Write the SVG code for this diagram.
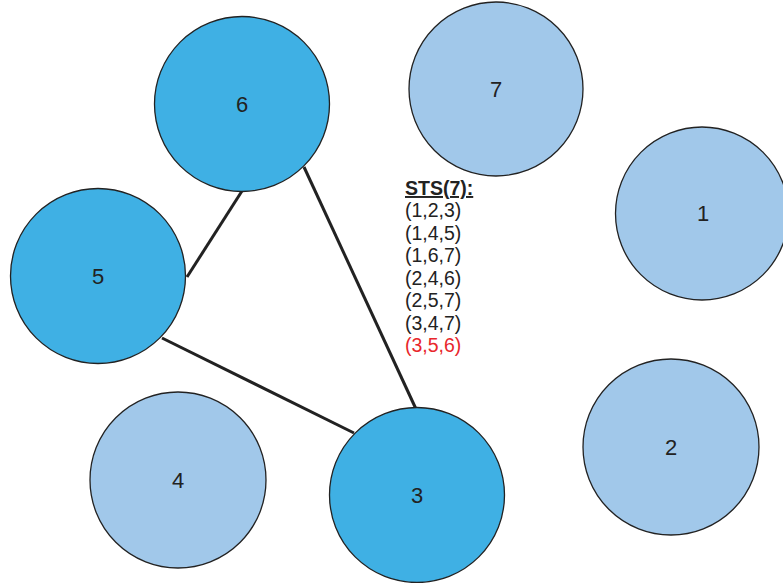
<svg xmlns="http://www.w3.org/2000/svg" width="783" height="583" viewBox="0 0 783 583">
  <style>
    .node { stroke: #222; stroke-width: 1.3; }
    .on { fill: #3fb0e4; }
    .off { fill: #a1c8ea; }
    .lbl { font-family: "Liberation Sans", Arial, sans-serif; font-size: 22px; fill: #222; text-anchor: middle; }
    .edge { stroke: #222; stroke-width: 3; fill: none; }
    .sts { font-family: "Liberation Sans", Arial, sans-serif; font-size: 19.5px; fill: #222; }
    .sts.hl { fill: #e8262b; }
  </style>
  <rect width="783" height="583" fill="#fff"/>
  <g id="edges">
    <line class="edge" x1="187" y1="277" x2="242" y2="191"/>
    <line class="edge" x1="304" y1="167" x2="416" y2="409"/>
    <line class="edge" x1="162" y1="338" x2="354" y2="433"/>
  </g>
  <g id="n6"><circle class="node on" cx="242" cy="104" r="87.5"/><text class="lbl" x="242" y="112">6</text></g>
  <g id="n7"><circle class="node off" cx="496" cy="89" r="87"/><text class="lbl" x="496" y="97">7</text></g>
  <g id="n1"><circle class="node off" cx="702" cy="213.5" r="86.5"/><text class="lbl" x="703" y="221">1</text></g>
  <g id="n5"><circle class="node on" cx="98" cy="276" r="87.5"/><text class="lbl" x="98" y="284">5</text></g>
  <g id="n2"><circle class="node off" cx="671" cy="447" r="88"/><text class="lbl" x="671" y="455">2</text></g>
  <g id="n4"><circle class="node off" cx="178" cy="480" r="88"/><text class="lbl" x="178" y="488">4</text></g>
  <g id="n3"><circle class="node on" cx="417" cy="495" r="87.5"/><text class="lbl" x="417" y="503">3</text></g>
  <g id="triples">
    <text class="sts" x="405" y="195" font-weight="bold" text-decoration="underline">STS(7):</text>
    <text class="sts" x="405" y="217">(1,2,3)</text>
    <text class="sts" x="405" y="239.5">(1,4,5)</text>
    <text class="sts" x="405" y="262">(1,6,7)</text>
    <text class="sts" x="405" y="284.5">(2,4,6)</text>
    <text class="sts" x="405" y="307">(2,5,7)</text>
    <text class="sts" x="405" y="329.5">(3,4,7)</text>
    <text class="sts hl" x="405" y="352">(3,5,6)</text>
  </g>
</svg>
